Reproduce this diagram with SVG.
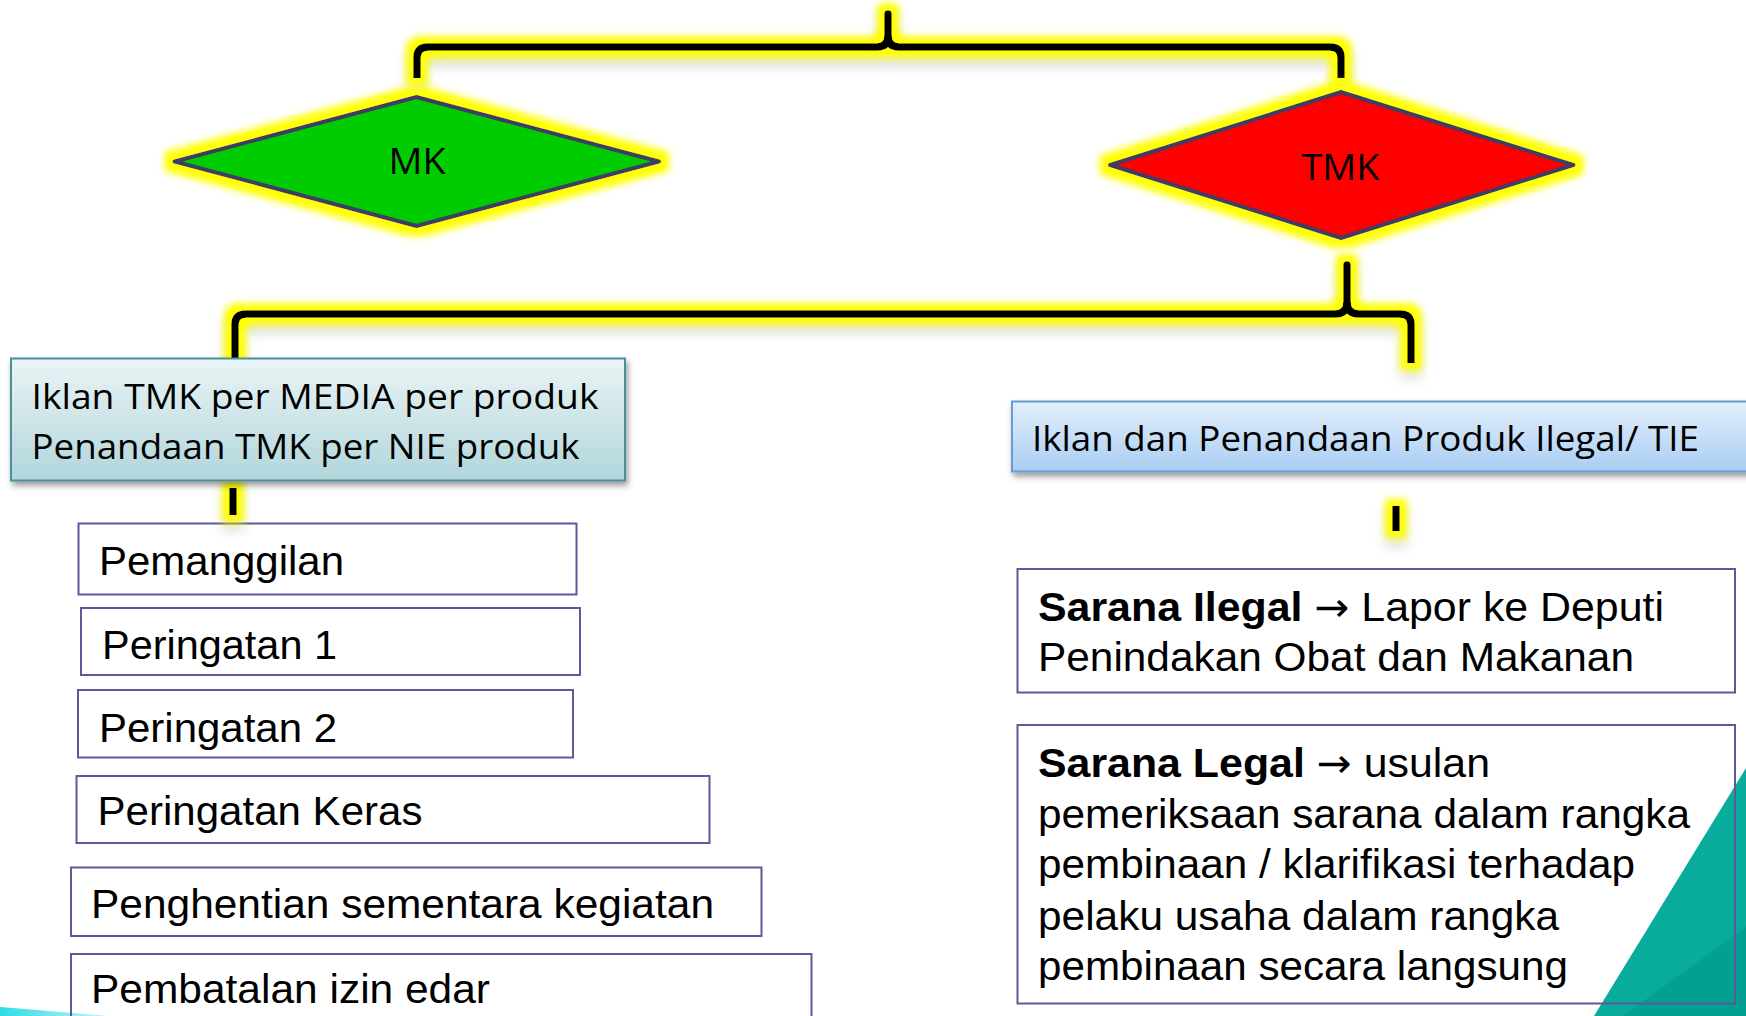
<svg xmlns="http://www.w3.org/2000/svg" width="1746" height="1016" viewBox="0 0 1746 1016">
<style>
.cal{font-family:"Open Sans","Noto Sans",sans-serif;fill:#000}
.ari{font-family:"Liberation Sans",Arial,sans-serif;font-size:41px;fill:#000}
.arr{font-family:"DejaVu Sans",sans-serif;font-size:40px}
.item{fill:none;stroke:#5b5b9b;stroke-width:2}
.br{fill:none;stroke:#000;stroke-width:7.5}
.dia{stroke:#3f3c62;stroke-width:4;stroke-linejoin:round}
</style>
<defs>
<filter id="glow" filterUnits="userSpaceOnUse" x="0" y="0" width="1746" height="1016">
<feMorphology in="SourceAlpha" operator="dilate" radius="7" result="d"/>
<feGaussianBlur in="d" stdDeviation="3.5" result="b"/>
<feOffset in="b" dy="7" result="o"/>
<feGaussianBlur in="o" stdDeviation="4" result="ob"/>
<feFlood flood-color="#000" flood-opacity="0.22"/>
<feComposite in2="ob" operator="in" result="shadow"/>
<feFlood flood-color="#ffff00"/>
<feComposite in2="b" operator="in" result="yel"/>
<feMerge><feMergeNode in="shadow"/><feMergeNode in="yel"/><feMergeNode in="SourceGraphic"/></feMerge>
</filter>
<filter id="glowD" filterUnits="userSpaceOnUse" x="0" y="0" width="1746" height="1016">
<feMorphology in="SourceAlpha" operator="dilate" radius="8" result="d"/>
<feGaussianBlur in="d" stdDeviation="3.5" result="b"/>
<feFlood flood-color="#ffff00"/>
<feComposite in2="b" operator="in" result="yel"/>
<feMerge><feMergeNode in="yel"/><feMergeNode in="SourceGraphic"/></feMerge>
</filter>
<filter id="shad" x="-5%" y="-20%" width="115%" height="150%">
<feDropShadow dx="2" dy="4" stdDeviation="3" flood-color="#000" flood-opacity="0.4"/>
</filter>
<linearGradient id="gL" x1="0" y1="0" x2="0" y2="1">
<stop offset="0" stop-color="#eaf4f6"/><stop offset="1" stop-color="#b1d6db"/>
</linearGradient>
<linearGradient id="gR" x1="0" y1="0" x2="0" y2="1">
<stop offset="0" stop-color="#e4f0fc"/><stop offset="1" stop-color="#a9cdf3"/>
</linearGradient>
<linearGradient id="gC" x1="0" y1="0" x2="1" y2="0">
<stop offset="0" stop-color="#2fdbe6"/><stop offset="1" stop-color="#c8f5f8"/>
</linearGradient>
</defs>
<rect width="1746" height="1016" fill="#fff"/>

<!-- decorations -->
<polygon points="1594,1016 1746,768 1746,1016" fill="#08ab9c"/>
<polygon points="1623,1016 1746,927 1746,1016" fill="#02a093"/>
<polygon points="0,1007 110,1016 0,1016" fill="url(#gC)"/>

<!-- list items -->
<g id="pemanggilan"><rect class="item" x="78.5" y="523.5" width="498" height="71"/><text class="ari" x="99" y="575" textLength="245" lengthAdjust="spacingAndGlyphs">Pemanggilan</text></g>
<g id="peringatan1"><rect class="item" x="81" y="608" width="499" height="67"/><text class="ari" x="102" y="659" textLength="235" lengthAdjust="spacingAndGlyphs">Peringatan 1</text></g>
<g id="peringatan2"><rect class="item" x="78" y="690" width="495" height="67.5"/><text class="ari" x="99" y="741.5" textLength="238" lengthAdjust="spacingAndGlyphs">Peringatan 2</text></g>
<g id="peringatan-keras"><rect class="item" x="76.5" y="776" width="633" height="67"/><text class="ari" x="97.5" y="825" textLength="325" lengthAdjust="spacingAndGlyphs">Peringatan Keras</text></g>
<g id="penghentian"><rect class="item" x="71" y="867.5" width="690.5" height="68.5"/><text class="ari" x="91" y="918" textLength="623" lengthAdjust="spacingAndGlyphs">Penghentian sementara kegiatan</text></g>
<g id="pembatalan"><rect class="item" x="71" y="954" width="740.5" height="80"/><text class="ari" x="91" y="1003" textLength="399" lengthAdjust="spacingAndGlyphs">Pembatalan izin edar</text></g>

<g id="sarana-ilegal"><rect class="item" x="1017.5" y="569" width="717.5" height="123.5"/>
<text class="ari" x="1038" y="620.5" textLength="626" lengthAdjust="spacingAndGlyphs"><tspan font-weight="bold">Sarana Ilegal</tspan> <tspan class="arr">→</tspan> Lapor ke Deputi</text>
<text class="ari" x="1038" y="670.5" textLength="596" lengthAdjust="spacingAndGlyphs">Penindakan Obat dan Makanan</text></g>
<g id="sarana-legal"><rect class="item" x="1017.5" y="725" width="717.5" height="278.5"/>
<text class="ari" x="1038" y="776.5" textLength="452" lengthAdjust="spacingAndGlyphs"><tspan font-weight="bold">Sarana Legal</tspan> <tspan class="arr">→</tspan> usulan</text>
<text class="ari" x="1038" y="828" textLength="652" lengthAdjust="spacingAndGlyphs">pemeriksaan sarana dalam rangka</text>
<text class="ari" x="1038" y="878" textLength="597" lengthAdjust="spacingAndGlyphs">pembinaan / klarifikasi terhadap</text>
<text class="ari" x="1038" y="930" textLength="521" lengthAdjust="spacingAndGlyphs">pelaku usaha dalam rangka</text>
<text class="ari" x="1038" y="980" textLength="530" lengthAdjust="spacingAndGlyphs">pembinaan secara langsung</text></g>

<!-- connectors -->
<g id="connectors">
<g filter="url(#glow)">
<path class="br" d="M417,78 V58 Q417,47 428,47 H877 Q888,47 888,36 M888,36 Q888,47 899,47 H1330 Q1341,47 1341,58 V78"/>
<path class="br" stroke-linecap="round" d="M888,38 V14"/>
</g>
<g filter="url(#glow)">
<path class="br" d="M235,358 V325 Q235,314 246,314 H1335 Q1347,314 1347,302 M1347,302 Q1347,314 1359,314 H1400 Q1411,314 1411,325 V363"/>
<path class="br" stroke-linecap="round" d="M1347,304 V265"/>
</g>
<g filter="url(#glow)">
<line class="br" x1="233" y1="488" x2="233" y2="515"/>
<line class="br" x1="1396" y1="506" x2="1396" y2="531"/>
</g>
</g>

<!-- decisions -->
<g id="mk">
<polygon class="dia" filter="url(#glowD)" fill="#00cc00" points="416.5,97 659,161.5 416.5,226 174.5,161.5"/>
<text class="cal" x="417" y="174" font-size="36" text-anchor="middle" textLength="57" lengthAdjust="spacingAndGlyphs">MK</text>
</g>
<g id="tmk">
<polygon class="dia" filter="url(#glowD)" fill="#ff0000" points="1341,92 1573.5,165 1341,238 1110,165"/>
<text class="cal" x="1340.5" y="180" font-size="37" text-anchor="middle" textLength="78" lengthAdjust="spacingAndGlyphs">TMK</text>
</g>

<!-- headers -->
<g id="header-left">
<rect x="11" y="358.5" width="614" height="122" fill="url(#gL)" stroke="#4d8f98" stroke-width="2" filter="url(#shad)"/>
<text class="cal" x="31.5" y="408.5" font-size="34" textLength="567" lengthAdjust="spacingAndGlyphs">Iklan TMK per MEDIA per produk</text>
<text class="cal" x="31.5" y="458.5" font-size="34" textLength="548" lengthAdjust="spacingAndGlyphs">Penandaan TMK per NIE produk</text>
</g>
<g id="header-right">
<rect x="1012" y="401.5" width="760" height="70" fill="url(#gR)" stroke="#6a9bd2" stroke-width="2" filter="url(#shad)"/>
<text class="cal" x="1032" y="451" font-size="34" textLength="667" lengthAdjust="spacingAndGlyphs">Iklan dan Penandaan Produk Ilegal/ TIE</text>
</g>
</svg>
